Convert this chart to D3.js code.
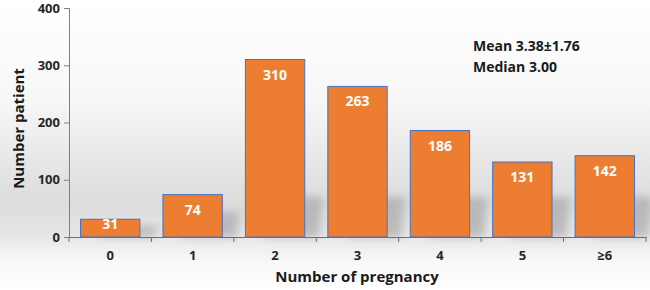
<!DOCTYPE html>
<html><head><meta charset="utf-8">
<script src="https://cdn.jsdelivr.net/npm/d3@7"></script>
<style>body{margin:0;background:#fff}svg{display:block}text{font-family:"Open Sans",sans-serif;font-weight:700}</style>
</head><body><svg id="c" width="650" height="290"></svg>
<script>
const categories = ["0","1","2","3","4","5","≥6"];
const values = [31,74,310,263,186,131,142];
const yTicks = [0,100,200,300,400];
const annotations = ["Mean 3.38\u00B11.76","Median 3.00"];

const W=650,H=290, m={l:69,r:4,t:8,b:53};
const svg=d3.select("#c");
const defs=svg.append("defs");
const g1=defs.append("linearGradient").attr("id","bg").attr("x1",0).attr("y1",0).attr("x2",0).attr("y2",1);
[[0,"#ffffff"],[0.35,"#f7f7f7"],[0.7,"#dcdcdc"],[0.8,"#e4e4e4"],[0.9,"#f8f8f8"],[1,"#ffffff"]].forEach(([o,c])=>g1.append("stop").attr("offset",o).attr("stop-color",c));
svg.append("rect").attr("width",W).attr("height",H).attr("fill","url(#bg)");
defs.append("filter").attr("id","blur").attr("x","-50%").attr("y","-50%").attr("width","200%").attr("height","200%")
  .append("feGaussianBlur").attr("stdDeviation",4);

const x=d3.scaleBand().domain(categories).range([m.l,W-m.r]).paddingInner(0.28).paddingOuter(0.14);
const y=d3.scaleLinear().domain([0,400]).range([H-m.b,m.t]);

// shadows
svg.append("g").selectAll("path").data(values).join("path")
  .attr("d",(d,i)=>{const x0=x(categories[i])+x.bandwidth()*0.3, x1=x(categories[i])+x.bandwidth()+14, yb=y(0), h=Math.min(40,(y(0)-y(d))*0.6);
    return `M${x0},${yb}L${x1},${yb}L${x1+4},${yb-h}L${x0+14},${yb-h}Z`;})
  .attr("fill","#9a9a9a").attr("opacity",0.55).attr("filter","url(#blur)");

// y axis
const ya=svg.append("g").attr("transform",`translate(${m.l},0)`).call(d3.axisLeft(y).tickValues(yTicks).tickSize(5).tickPadding(4));
ya.select(".domain").attr("stroke","#7f7f7f");
ya.selectAll("line").attr("stroke","#7f7f7f");
ya.selectAll("text").attr("font-size",13).attr("fill","#262626").attr("font-family","Open Sans").attr("font-weight",700);

// bars
svg.append("g").selectAll("rect").data(values).join("rect")
  .attr("x",(d,i)=>x(categories[i])).attr("width",x.bandwidth())
  .attr("y",d=>y(d)).attr("height",d=>y(0)-y(d))
  .attr("fill","#ED7D31").attr("stroke","#4472C4").attr("stroke-width",1);

// x axis
const xa=svg.append("g").attr("transform",`translate(0,${y(0)})`).call(d3.axisBottom(x).tickSize(0).tickPadding(14));
xa.select(".domain").attr("stroke","#4472C4");
xa.selectAll("text").attr("font-size",13).attr("fill","#262626").attr("font-family","Open Sans").attr("font-weight",700);
const tickPos=d3.range(categories.length+1).map(i=>m.l+i*(W-m.r-m.l)/categories.length);
xa.selectAll(".sep").data(tickPos).join("line").attr("class","sep")
  .attr("x1",d=>d).attr("x2",d=>d).attr("y1",0).attr("y2",5).attr("stroke","#4472C4");

// value labels
svg.append("g").selectAll("text").data(values).join("text")
  .attr("x",(d,i)=>x(categories[i])+x.bandwidth()/2)
  .attr("y",d=>y(d)+((y(0)-y(d))>30?20:10))
  .attr("text-anchor","middle").attr("font-size",14).attr("fill","#ffffff").text(d=>d);

// axis titles
svg.append("text").attr("transform",`translate(24,${(y(0)+y(400))/2+6}) rotate(-90)`)
  .attr("text-anchor","middle").attr("font-size",15).attr("fill","#1a1a1a").text("Number patient");
svg.append("text").attr("x",357).attr("y",282).attr("text-anchor","middle")
  .attr("font-size",15).attr("fill","#1a1a1a").text("Number of pregnancy");

// annotation
svg.append("g").selectAll("text").data(annotations).join("text")
  .attr("x",473).attr("y",(d,i)=>51+i*21).attr("font-size",14).attr("fill","#1a1a1a").text(d=>d);
</script></body></html>
